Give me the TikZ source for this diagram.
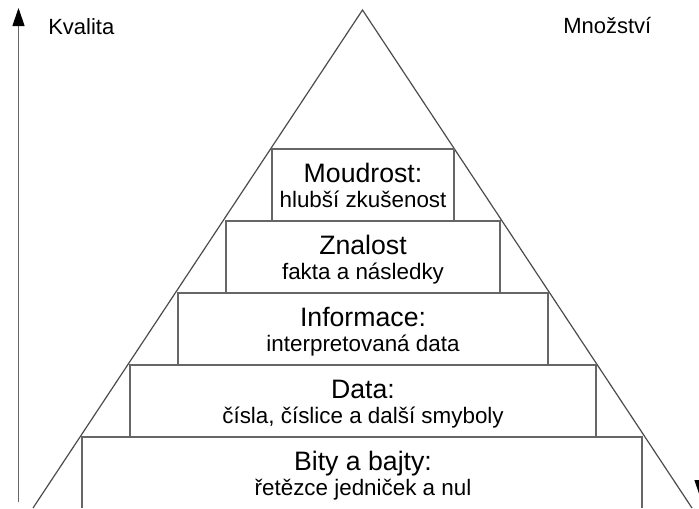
\documentclass[tikz,border=0pt]{standalone}
\usepackage{fontspec}
\setmainfont{Liberation Sans}
\usetikzlibrary{arrows.meta}

\tikzset{
  stepline/.style={draw=black!60, line width=0.9pt},
  pyramidline/.style={draw=black!70, line width=0.9pt},
  axisline/.style={draw=black!60, line width=0.9pt},
  axistip/.style={-{Triangle[length=13.5pt,width=9pt,color=black,fill=black]}},
  steptitle/.style={anchor=base, inner sep=0.75pt, font=\fontsize{20}{24}\selectfont},
  stepnote/.style={anchor=base, inner sep=0.75pt, font=\fontsize{16.8}{20}\selectfont},
  axislabel/.style={anchor=base west, inner sep=0.75pt, font=\fontsize{16.5}{20}\selectfont}
}

\begin{document}
\begin{tikzpicture}[x=0.75pt,y=0.75pt,yscale=-1,xscale=1]
\useasboundingbox (0,0) rectangle (699,508);

%Shape: Triangle
\draw [pyramidline] (33,508) -- (362.5,10) -- (692,508) ;

%Shape: Rectangle (Moudrost)
\draw [stepline] (272,149) -- (454,149) -- (454,221) -- (272,221) -- cycle ;
%Shape: Rectangle (Znalost)
\draw [stepline] (226,221) -- (500,221) -- (500,293) -- (226,293) -- cycle ;
%Shape: Rectangle (Informace)
\draw [stepline] (178,293) -- (548,293) -- (548,365) -- (178,365) -- cycle ;
%Shape: Rectangle (Data)
\draw [stepline] (130,365) -- (596,365) -- (596,437) -- (130,437) -- cycle ;
%Shape: open Rectangle (Bity a bajty)
\draw [stepline] (82,508) -- (82,437) -- (642,437) -- (642,508) ;

%Axis: Kvalita
\coordinate (kvalitaStart) at (18.5,502) ;
\coordinate (kvalitaEnd) at (18.5,8) ;
\draw [axisline, axistip] (kvalitaStart) -- (kvalitaEnd) ;
%Axis: Mnozstvi
\coordinate (mnozstviStart) at (700.5,20) ;
\coordinate (mnozstviEnd) at (700.5,498) ;
\draw [axisline, axistip] (mnozstviStart) -- (mnozstviEnd) ;

% Text Node
\draw (47,34) node [axislabel] (kvalita) {Kvalita};
% Text Node
\draw (562,33) node [axislabel] (mnozstvi) {Množství};

% Text Node
\draw (363,182) node [steptitle] (moudrostTitle) {Moudrost:};
% Text Node
\draw (363,207) node [stepnote] (moudrostNote) {hlubší zkušenost};
% Text Node
\draw (363,254) node [steptitle] (znalostTitle) {Znalost};
% Text Node
\draw (363,279) node [stepnote] (znalostNote) {fakta a následky};
% Text Node
\draw (363,326) node [steptitle] (informaceTitle) {Informace:};
% Text Node
\draw (363,351) node [stepnote] (informaceNote) {interpretovaná data};
% Text Node
\draw (363,398) node [steptitle] (dataTitle) {Data:};
% Text Node
\draw (363,423) node [stepnote] (dataNote) {čísla, číslice a další smyboly};
% Text Node
\draw (363,470) node [steptitle] (bityTitle) {Bity a bajty:};
% Text Node
\draw (363,495) node [stepnote] (bityNote) {řetězce jedniček a nul};

\end{tikzpicture}
\end{document}
